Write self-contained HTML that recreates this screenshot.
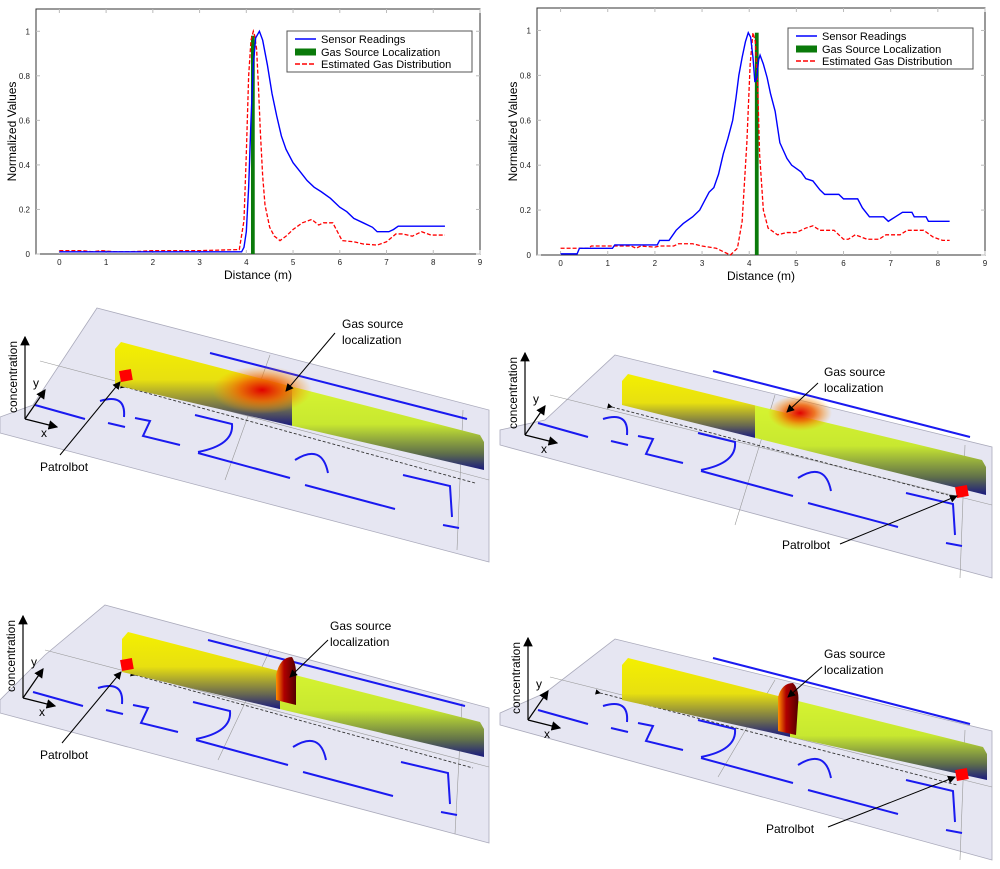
<!DOCTYPE html>
<html><head><meta charset="utf-8"><style>
html,body{margin:0;padding:0;background:#fff;}
svg{display:block;font-family:"Liberation Sans",sans-serif;}
</style></head><body>
<svg id="root" width="1000" height="869" viewBox="0 0 1000 869" xmlns="http://www.w3.org/2000/svg">
<defs>
<linearGradient id="barL" gradientUnits="objectBoundingBox" x1="0" y1="0" x2="0" y2="1">
<stop offset="0" stop-color="#f4f000"/><stop offset="0.45" stop-color="#e8e010"/><stop offset="0.8" stop-color="#6a6a50"/><stop offset="1" stop-color="#1a1a80"/></linearGradient>
<linearGradient id="barR" gradientUnits="objectBoundingBox" x1="0" y1="0" x2="0" y2="1">
<stop offset="0" stop-color="#d6f430"/><stop offset="0.45" stop-color="#c8e830"/><stop offset="0.8" stop-color="#60704a"/><stop offset="1" stop-color="#1a1a80"/></linearGradient>
<radialGradient id="hot"><stop offset="0" stop-color="#e00000"/><stop offset="0.45" stop-color="#f06000" stop-opacity="0.85"/><stop offset="1" stop-color="#ffa000" stop-opacity="0"/></radialGradient>
<linearGradient id="spike" x1="0" y1="0" x2="1" y2="0"><stop offset="0" stop-color="#ff9000"/><stop offset="0.4" stop-color="#b00000"/><stop offset="1" stop-color="#500000"/></linearGradient>
<marker id="ah" markerWidth="8" markerHeight="8" refX="7" refY="4" orient="auto"><path d="M0,0 L8,4 L0,8 z" fill="#000"/></marker>
<marker id="ahs" markerWidth="6" markerHeight="6" refX="5" refY="3" orient="auto"><path d="M0,0 L6,3 L0,6 z" fill="#000"/></marker>
</defs>
<g id="charts"></g>
<g id="panels"></g>
</svg>
<script>
// ---------- Chart data ----------
const xTicks = [0,1,2,3,4,5,6,7,8,9];
const yTicks = [0,0.2,0.4,0.6,0.8,1];
const yTickLabels = ["0","0.2","0.4","0.6","0.8","1"];
const c1SensorX = [0,3.9,3.95,4.0,4.05,4.1,4.15,4.2,4.28,4.35,4.45,4.55,4.65,4.75,4.85,5.0,5.15,5.3,5.45,5.6,5.8,6.0,6.15,6.3,6.5,6.7,6.8,7.05,7.15,7.25,8.25];
const c1SensorY = [0.01,0.01,0.03,0.1,0.3,0.6,0.85,0.97,1.0,0.96,0.85,0.72,0.62,0.53,0.47,0.41,0.37,0.33,0.3,0.28,0.25,0.21,0.19,0.16,0.14,0.12,0.1,0.1,0.11,0.125,0.125];
const c1EstX = [0,0.5,0.7,0.9,1.2,1.5,2.0,3.0,3.85,3.95,4.0,4.05,4.1,4.15,4.18,4.22,4.26,4.3,4.35,4.4,4.5,4.6,4.72,4.85,5.0,5.2,5.4,5.55,5.65,5.85,5.95,6.05,6.3,6.5,6.8,7.0,7.2,7.35,7.55,7.75,7.95,8.25];
const c1EstY = [0.015,0.015,0.01,0.015,0.01,0.01,0.015,0.015,0.02,0.15,0.45,0.8,0.96,1.0,0.98,0.92,0.75,0.55,0.35,0.22,0.12,0.08,0.06,0.08,0.11,0.14,0.155,0.13,0.14,0.14,0.1,0.06,0.055,0.045,0.04,0.055,0.09,0.09,0.08,0.1,0.085,0.085];
const c1Src = [4.1,4.18,0.98];
const c2SensorX = [0,0.35,0.4,1.1,1.15,2.05,2.1,2.3,2.45,2.6,2.8,2.95,3.05,3.15,3.25,3.35,3.45,3.55,3.65,3.72,3.78,3.85,3.92,3.98,4.03,4.08,4.12,4.16,4.2,4.23,4.3,4.38,4.45,4.55,4.65,4.8,4.9,5.1,5.2,5.35,5.5,5.6,5.9,6.0,6.3,6.4,6.55,6.85,6.95,7.1,7.25,7.45,7.5,7.75,7.8,8.25];
const c2SensorY = [0.005,0.005,0.03,0.03,0.045,0.045,0.065,0.065,0.11,0.14,0.17,0.2,0.24,0.28,0.3,0.36,0.45,0.52,0.6,0.7,0.8,0.88,0.95,0.99,0.97,0.88,0.77,0.79,0.87,0.89,0.85,0.79,0.72,0.64,0.5,0.43,0.4,0.37,0.34,0.33,0.29,0.27,0.27,0.25,0.25,0.21,0.17,0.17,0.15,0.17,0.19,0.19,0.17,0.17,0.15,0.15];
const c2EstX = [0,0.6,0.65,1.5,1.6,1.7,2.0,2.1,2.4,2.5,2.8,3.0,3.3,3.5,3.6,3.75,3.85,3.95,4.02,4.08,4.13,4.18,4.22,4.3,4.4,4.6,4.8,5.0,5.2,5.35,5.5,5.8,6.0,6.1,6.25,6.5,6.75,6.9,7.2,7.35,7.7,7.9,8.1,8.25];
const c2EstY = [0.03,0.03,0.04,0.04,0.03,0.04,0.035,0.04,0.04,0.05,0.05,0.04,0.03,0.01,0.0,0.03,0.15,0.5,0.85,0.99,0.95,0.75,0.45,0.2,0.12,0.09,0.1,0.1,0.12,0.13,0.11,0.11,0.07,0.07,0.09,0.07,0.07,0.09,0.09,0.11,0.11,0.08,0.065,0.065];
const c2Src = [4.12,4.2,0.99];
const legendLabels = ["Sensor Readings","Gas Source Localization","Estimated Gas Distribution"];

const NS="http://www.w3.org/2000/svg";
function mk(tag,attrs,parent){const e=document.createElementNS(NS,tag);for(const k in attrs)e.setAttribute(k,attrs[k]);if(parent)parent.appendChild(e);return e;}

function drawChart(id,box,sx,sy,srcArr,estX,estY,legPos){
  const g=mk('g',{},document.getElementById('charts'));
  
  
  const L=box.l,R=box.r,T=box.t,B=box.b;
  const xs=v=>L+(v+0.5)/9.5*(R-L);
  const ys=v=>B-v/1.1*(B-T);
  const frame=mk('rect',{x:L,y:T,width:R-L,height:B-T,fill:'#fff',stroke:'#333','stroke-width':1},g);
  
  
  xTicks.forEach(t=>{
    mk('line',{x1:xs(t),x2:xs(t),y1:B,y2:B-4,stroke:'#bbb'},g);
    mk('line',{x1:xs(t),x2:xs(t),y1:T,y2:T+4,stroke:'#bbb'},g);
    const tx=mk('text',{x:xs(t),y:B+11,'font-size':8,'text-anchor':'middle',fill:'#222'},g);
    tx.textContent=t;
    
    
  });
  yTicks.forEach((t,i)=>{
    mk('line',{x1:L,x2:L+4,y1:ys(t),y2:ys(t),stroke:'#bbb'},g);
    mk('line',{x1:R,x2:R-4,y1:ys(t),y2:ys(t),stroke:'#bbb'},g);
    const tx=mk('text',{x:L-6,y:ys(t)+3,'font-size':8,'text-anchor':'end',fill:'#222'},g);
    tx.textContent=yTickLabels[i];
    
    
  });
  const xl=mk('text',{x:(L+R)/2,y:B+25,'font-size':12,'text-anchor':'middle'},g);
  xl.textContent='Distance (m)';
  
  
  const yl=mk('text',{x:0,y:0,'font-size':12,'text-anchor':'middle',transform:`translate(${L-20},${(T+B)/2}) rotate(-90)`},g);
  yl.textContent='Normalized  Values';
  
  
  const bar=mk('rect',{x:xs(srcArr[0]),y:ys(srcArr[2]),width:xs(srcArr[1])-xs(srcArr[0]),height:B-ys(srcArr[2]),fill:'#0a7a0a'},g);
  
  
  const pe=mk('polyline',{points:estX.map((x,i)=>xs(x)+','+ys(estY[i])).join(' '),fill:'none',stroke:'#f00','stroke-width':1.3,'stroke-dasharray':'4,2'},g);
  
  
  const ps=mk('polyline',{points:sx.map((x,i)=>xs(x)+','+ys(sy[i])).join(' '),fill:'none',stroke:'#00f','stroke-width':1.4},g);
  
  
  const lg=mk('g',{},g);
  
  
  mk('rect',{x:legPos[0],y:legPos[1],width:185,height:41,fill:'#fff',stroke:'#555'},lg);
  const ly=[legPos[1]+8,legPos[1]+21,legPos[1]+33];
  mk('line',{x1:legPos[0]+8,x2:legPos[0]+29,y1:ly[0],y2:ly[0],stroke:'#00f','stroke-width':1.5},lg);
  mk('rect',{x:legPos[0]+8,y:ly[1]-3.5,width:21,height:7,fill:'#0a7a0a'},lg);
  mk('line',{x1:legPos[0]+8,x2:legPos[0]+29,y1:ly[2],y2:ly[2],stroke:'#f00','stroke-width':1.5,'stroke-dasharray':'5,2'},lg);
  legendLabels.forEach((s,i)=>{
    const t=mk('text',{x:legPos[0]+34,y:ly[i]+4,'font-size':11},lg);
    t.textContent=s;
    
    
  });
}
drawChart('chart-left',{l:36,r:480,t:9,b:254},c1SensorX,c1SensorY,c1Src,c1EstX,c1EstY,[287,31]);
drawChart('chart-right',{l:537,r:985,t:8,b:255},c2SensorX,c2SensorY,c2Src,c2EstX,c2EstY,[788,28]);

// ---------- 3D panels ----------
function panel(name,ox,oy,cfg){
  const g=mk('g',{transform:`translate(${ox},${oy})`},document.getElementById('panels'));
  
  
  const pl=mk('polygon',{points:cfg.plane,fill:'#e6e6f2',stroke:'#aab','stroke-width':0.8},g);
  
  
  cfg.grid.forEach(l=>mk('line',{x1:l[0],y1:l[1],x2:l[2],y2:l[3],stroke:'#999','stroke-width':0.6},g));
  const m=mk('g',{transform:`translate(${cfg.map[0]},${cfg.map[1]})`,fill:'none',stroke:'#1a1af0','stroke-width':2},g);
  
  
  ['M35,110 L85,124','M100,106 Q126,98 124,122','M108,128 L125,132','M135,123 L150,126 L143,141 L180,150',
   'M195,120 L232,129 Q234,150 198,157','M198,158 L290,183','M295,165 Q322,148 328,178','M305,190 L395,214',
   'M403,180 L450,191 L452,222','M443,230 L459,233','M210,58 L467,124'].forEach(d=>mk('path',{d:d},m));
  const b=cfg.bar;
  const dy=(b[4]-b[1])/(b[3]-b[0]), dyb=(b[5]-b[2])/(b[3]-b[0]);
  const sp=b[6];
  const yt=x=>b[1]+(x-b[0])*dy, yb=x=>b[2]+(x-b[0])*dyb;
  const d=mk('line',{x1:cfg.dash[0],y1:cfg.dash[1],x2:cfg.dash[2],y2:cfg.dash[3],stroke:'#333','stroke-width':0.9,'stroke-dasharray':'3,2','marker-start':'url(#ahs)'},g);
  
  
  const bl=mk('polygon',{points:`${b[0]},${b[1]+4} ${b[0]+6},${b[1]-3} ${sp},${yt(sp)-3} ${sp},${yb(sp)} ${b[0]},${b[2]}`,fill:'url(#barL)'},g);
  
  
  const br=mk('polygon',{points:`${sp},${yt(sp)-3} ${b[3]-4},${b[4]-3} ${b[3]},${b[4]+4} ${b[3]},${b[5]} ${sp},${yb(sp)}`,fill:'url(#barR)'},g);
  
  
  if(cfg.hot){const h=mk('ellipse',{cx:cfg.hot[0],cy:cfg.hot[1],rx:cfg.hot[2],ry:cfg.hot[3],fill:'url(#hot)'},g);
    }
  if(cfg.spike){const s=mk('path',{d:cfg.spike,fill:'url(#spike)'},g);
    }
  const rb=mk('rect',{x:cfg.robot[0]-6,y:cfg.robot[1]-6,width:12,height:11,fill:'#f00',transform:`rotate(-10 ${cfg.robot[0]} ${cfg.robot[1]})`},g);
  
  
  const a=cfg.ax;
  mk('line',{x1:a[0],y1:a[1],x2:a[0],y2:a[1]-82,stroke:'#000','stroke-width':1.2,'marker-end':'url(#ah)'},g);
  mk('line',{x1:a[0],y1:a[1],x2:a[0]+32,y2:a[1]+8,stroke:'#000','stroke-width':1.2,'marker-end':'url(#ah)'},g);
  mk('line',{x1:a[0],y1:a[1],x2:a[0]+20,y2:a[1]-29,stroke:'#000','stroke-width':1.2,'marker-end':'url(#ah)'},g);
  const ct=mk('text',{'font-size':12,'text-anchor':'middle',transform:`translate(${a[0]-8},${a[1]-42}) rotate(-90)`},g);
  ct.textContent='concentration';
  
  
  const ty=mk('text',{x:a[0]+8,y:a[1]-32,'font-size':12},g);ty.textContent='y';
  
  
  const tx=mk('text',{x:a[0]+16,y:a[1]+18,'font-size':12},g);tx.textContent='x';
  
  
  const pt=mk('text',{x:cfg.pb[0],y:cfg.pb[1],'font-size':12},g);pt.textContent='Patrolbot';
  
  
  mk('line',{x1:cfg.pbA[0],y1:cfg.pbA[1],x2:cfg.pbA[2],y2:cfg.pbA[3],stroke:'#000','stroke-width':1,'marker-end':'url(#ah)'},g);
  const gt=mk('text',{x:cfg.gs[0],y:cfg.gs[1],'font-size':12},g);
  
  
  const t1=mk('tspan',{x:cfg.gs[0],dy:0},gt);t1.textContent='Gas source';
  const t2=mk('tspan',{x:cfg.gs[0],dy:16},gt);t2.textContent='localization';
  mk('line',{x1:cfg.gsA[0],y1:cfg.gsA[1],x2:cfg.gsA[2],y2:cfg.gsA[3],stroke:'#000','stroke-width':1,'marker-end':'url(#ah)'},g);
}
const planeA='97,13 489,115 489,267 0,138 0,122 33,110';
const gridA=[[40,66,489,185],[270,60,225,185],[463,115,457,255]];
panel('panel-top-left',0,295,{plane:planeA,grid:gridA,map:[0,0],bar:[115,50,90,484,143,175,292],
  hot:[262,95,50,24],dash:[125,92,475,188],robot:[126,81],ax:[25,124],
  pb:[40,176],pbA:[60,160,120,87],gs:[342,33],gsA:[335,38,286,96]});
panel('panel-top-right',500,295,{plane:'115,60 492,152 492,283 0,150 0,135 45,125',grid:[[50,100,492,210],[275,100,235,230],[465,150,460,283]],
  map:[3,18],bar:[122,82,110,486,168,200,255],hot:[300,118,32,18],dash:[112,112,448,200],robot:[462,197],ax:[25,140],
  pb:[282,254],pbA:[340,249,457,201],gs:[324,81],gsA:[318,88,287,117]});
panel('panel-bottom-left',0,585,{plane:'105,20 489,123 489,258 0,128 0,115 45,70',grid:[[45,65,489,182],[270,65,218,175],[462,118,455,249]],
  map:[-2,-3],bar:[122,50,87,484,140,172,280],spike:'M276,90 Q280,72 292,72 Q297,80 296,95 L296,120 L276,115 z',dash:[135,90,473,183],robot:[127,80],ax:[23,113],
  pb:[40,174],pbA:[62,158,121,87],gs:[330,45],gsA:[328,55,290,92]});
panel('panel-bottom-right',500,585,{plane:'115,54 492,146 492,275 0,140 0,128 45,108',grid:[[50,92,492,202],[275,95,218,192],[465,145,460,275]],
  map:[3,15],bar:[122,76,115,487,165,195,290],spike:'M278,112 Q282,98 293,98 Q300,105 298,120 L296,150 L278,146 z',dash:[100,108,457,200],robot:[462,190],ax:[28,135],
  pb:[266,248],pbA:[328,242,455,192],gs:[324,73],gsA:[322,82,288,112]});
</script>
</body></html>
